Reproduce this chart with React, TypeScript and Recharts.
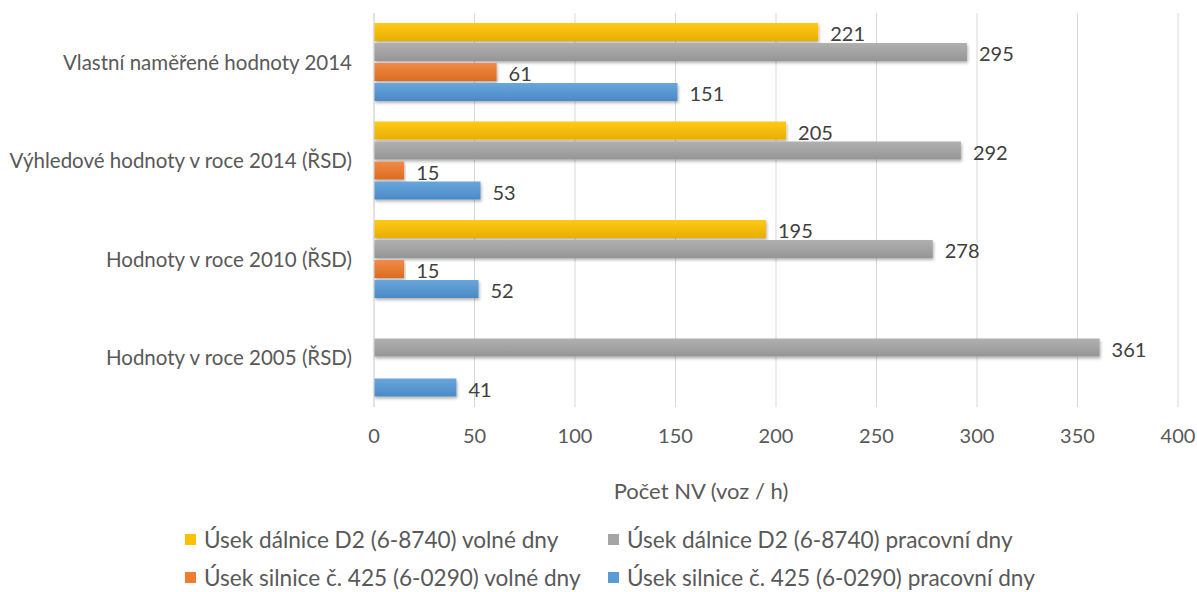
import { BarChart, Bar, XAxis, YAxis, CartesianGrid, Legend, LabelList } from 'recharts';

const categories = [
    'Vlastní naměřené hodnoty 2014',
    'Výhledové hodnoty v roce 2014 (ŘSD)',
    'Hodnoty v roce 2010 (ŘSD)',
    'Hodnoty v roce 2005 (ŘSD)',
];

const d2Free = [221, 205, 195, null];
const d2Work = [295, 292, 278, 361];
const r425Free = [61, 15, 15, null];
const r425Work = [151, 53, 52, 41];

const xTicks = [0, 50, 100, 150, 200, 250, 300, 350, 400];

const series = [
    { key: 'd2Free', name: 'Úsek dálnice D2 (6-8740) volné dny', color: '#FFC000', top: '#FFC918', bottom: '#E8AF00' },
    { key: 'd2Work', name: 'Úsek dálnice D2 (6-8740) pracovní dny', color: '#A5A5A5', top: '#B0B0B0', bottom: '#959595' },
    { key: 'r425Free', name: 'Úsek silnice č. 425 (6-0290) volné dny', color: '#ED7D31', top: '#F18B45', bottom: '#DA6C22' },
    { key: 'r425Work', name: 'Úsek silnice č. 425 (6-0290) pracovní dny', color: '#5B9BD5', top: '#69A6DC', bottom: '#4A8AC6' },
];

const data = categories.map((name, i) => ({
    name,
    d2Free: d2Free[i],
    d2Work: d2Work[i],
    r425Free: r425Free[i],
    r425Work: r425Work[i],
}));

const FONT = 'Lato, "Open Sans", sans-serif';

function ValueLabel(props: any) {
    const { x, y, width, height, value } = props;
    if (value == null) return null;
    return (
        <text
            x={x + width + 12}
            y={y + height / 2 + 1}
            dominantBaseline="central"
            fill="#404040"
            fontSize={20}
            fontFamily={FONT}
        >
            {value}
        </text>
    );
}

function AxisTitle(props: any) {
    const { viewBox } = props;
    return (
        <text
            x={viewBox.x + viewBox.width / 2 - 75}
            y={viewBox.y + 83}
            textAnchor="middle"
            dominantBaseline="central"
            fill="#595959"
            fontSize={22}
            fontFamily={FONT}
        >
            Počet NV (voz / h)
        </text>
    );
}

function LegendBox() {
    return (
        <div
            style={{
                display: 'grid',
                gridTemplateColumns: '423px 500px',
                rowGap: 12,
                fontFamily: FONT,
                fontSize: 22.6,
                color: '#595959',
                paddingLeft: 185,
            }}
        >
            {series.map((s) => (
                <div key={s.key} style={{ display: 'flex', alignItems: 'center', height: 26, whiteSpace: 'nowrap' }}>
                    <span
                        style={{
                            width: 11,
                            height: 11,
                            flexShrink: 0,
                            background: s.color,
                            marginRight: 8,
                            display: 'inline-block',
                        }}
                    />
                    {s.name}
                </div>
            ))}
        </div>
    );
}

export default function App() {
    return (
        <div style={{ position: 'absolute', left: 0, top: 0, width: 1197, height: 592, background: '#fff' }}>
            <BarChart
                width={1197}
                height={592}
                data={data}
                layout="vertical"
                margin={{ top: 13, right: 19, left: 0, bottom: 85 }}
                barCategoryGap={10}
                barGap={2}
            >
                <defs>
                    {series.map((s) => (
                        <linearGradient key={s.key} id={`grad-${s.key}`} x1="0" y1="0" x2="0" y2="1">
                            <stop offset="0%" stopColor={s.top} />
                            <stop offset="100%" stopColor={s.bottom} />
                        </linearGradient>
                    ))}
                    <filter id="barShadow" x="-5%" y="-30%" width="110%" height="170%">
                        <feDropShadow dx="1" dy="2" stdDeviation="1.5" floodColor="#000" floodOpacity="0.3" />
                    </filter>
                </defs>
                <CartesianGrid horizontal={false} stroke="#D9D9D9" />
                <XAxis
                    type="number"
                    domain={[0, 400]}
                    ticks={xTicks}
                    axisLine={false}
                    tickLine={false}
                    tickSize={0}
                    tickMargin={22}
                    height={100}
                    tick={{ fill: '#595959', fontSize: 20, fontFamily: FONT }}
                    label={<AxisTitle />}
                />
                <YAxis
                    type="category"
                    dataKey="name"
                    width={374}
                    axisLine={{ stroke: '#D9D9D9' }}
                    tickLine={false}
                    tickSize={0}
                    tickMargin={22}
                    tick={{ fill: '#595959', fontSize: 20.5, fontFamily: FONT }}
                />
                <Legend
                    layout="horizontal"
                    verticalAlign="middle"
                    align="center"
                    wrapperStyle={{ top: 526, left: 0, width: 1197 }}
                    content={<LegendBox />}
                />
                {series.map((s) => (
                    <Bar
                        key={s.key}
                        dataKey={s.key}
                        name={s.name}
                        fill={`url(#grad-${s.key})`}
                        filter="url(#barShadow)"
                        isAnimationActive={false}
                    >
                        <LabelList dataKey={s.key} content={<ValueLabel />} />
                    </Bar>
                ))}
            </BarChart>
        </div>
    );
}
